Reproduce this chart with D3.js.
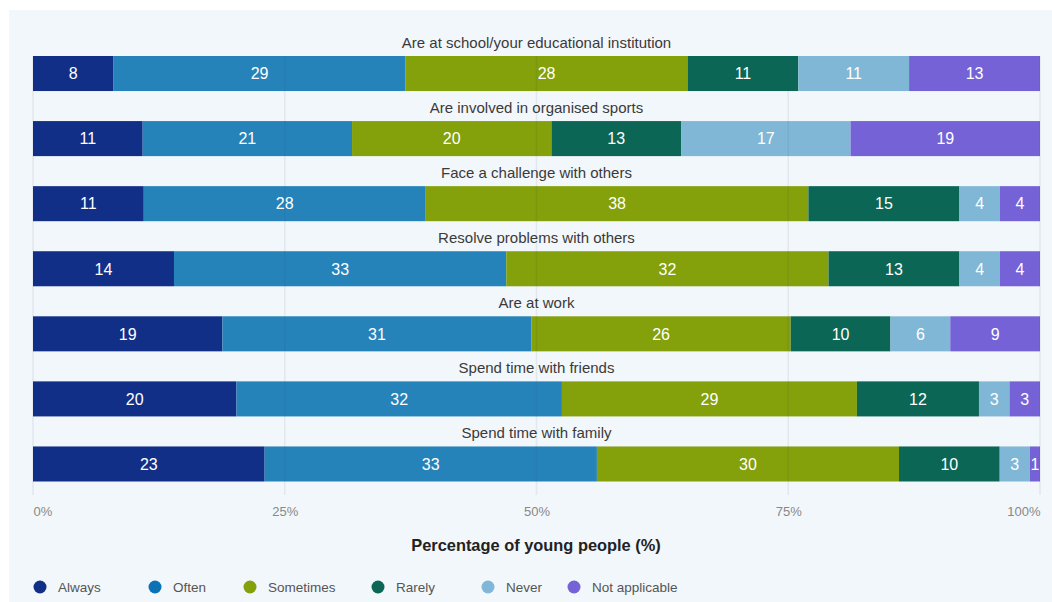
<!DOCTYPE html>
<html><head><meta charset="utf-8">
<script src="https://cdn.jsdelivr.net/npm/d3@7"></script>
<style>
html,body{margin:0;padding:0;background:#fff;}
svg{display:block;font-family:"Liberation Sans",Arial,Helvetica,sans-serif;}
</style></head>
<body><svg id="chart" width="1052" height="602"></svg>
<script>
const categories = [
  "Are at school/your educational institution",
  "Are involved in organised sports",
  "Face a challenge with others",
  "Resolve problems with others",
  "Are at work",
  "Spend time with friends",
  "Spend time with family"
];
const seriesNames = ["Always","Often","Sometimes","Rarely","Never","Not applicable"];
const always        = [8, 11, 11, 14, 19, 20, 23];
const often         = [29, 21, 28, 33, 31, 32, 33];
const sometimes     = [28, 20, 38, 32, 26, 29, 30];
const rarely        = [11, 13, 15, 13, 10, 12, 10];
const never         = [11, 17, 4, 4, 6, 3, 3];
const notApplicable = [13, 19, 4, 4, 9, 3, 1];
const tickValues = [0, 0.25, 0.5, 0.75, 1];
const tickLabels = ["0%","25%","50%","75%","100%"];
const barColors    = ["#122f87","#2683b9","#84a00a","#0b6655","#80b7d6","#7462d6"];
const legendColors = ["#122f87","#0a72b5","#84a00a","#0b6655","#80b7d6","#7462d6"];

const seriesValues = [always, often, sometimes, rarely, never, notApplicable];
const rows = categories.map((c,i)=>{
  const o = {category:c};
  seriesNames.forEach((s,j)=>o[s]=seriesValues[j][i]);
  return o;
});

const svg = d3.select("#chart");
svg.append("rect").attr("x",9).attr("y",10).attr("width",1043).attr("height",592).attr("fill","#f2f7fb");

const x = d3.scaleLinear().domain([0,1]).range([33,1040]);
const y = d3.scaleBand().domain(categories).range([56,481.5]).paddingInner(30/65).paddingOuter(0);

const stack = d3.stack().keys(seriesNames).offset(d3.stackOffsetExpand);
const stacked = stack(rows);

const g = svg.append("g");
stacked.forEach((layer,j)=>{
  const lg = g.append("g");
  lg.selectAll("rect").data(layer).join("rect")
    .attr("x",d=>x(d[0])).attr("width",d=>x(d[1])-x(d[0]))
    .attr("y",d=>y(d.data.category)).attr("height",y.bandwidth())
    .attr("fill",barColors[j]);
  lg.selectAll("text").data(layer).join("text")
    .attr("x",d=>(x(d[0])+x(d[1]))/2)
    .attr("y",d=>y(d.data.category)+y.bandwidth()/2)
    .attr("dy","0.36em").attr("text-anchor","middle")
    .attr("fill","#fff").attr("font-size",16)
    .text(d=>d.data[seriesNames[j]]);
});

// category labels
svg.append("g").selectAll("text").data(categories).join("text")
  .attr("x",536.5).attr("y",d=>y(d)-8)
  .attr("text-anchor","middle").attr("font-size",15).attr("fill","#3a3a3a")
  .text(d=>d);

// gridlines on top
svg.append("g").selectAll("line").data(tickValues).join("line")
  .attr("x1",d=>x(d)).attr("x2",d=>x(d))
  .attr("y1",56).attr("y2",495)
  .attr("stroke","rgba(40,60,90,0.08)").attr("stroke-width",1.5);

// axis tick labels
const axisG = svg.append("g").attr("transform","translate(0,516)");
const axis = d3.axisBottom(x).tickValues(tickValues).tickFormat((d,i)=>tickLabels[i]).tickSize(0);
axisG.call(axis);
axisG.select(".domain").remove();
axisG.selectAll("text").attr("y",0).attr("dy","0")
  .attr("font-size",13).attr("fill","#888")
  .attr("font-family","'Liberation Sans',Arial,sans-serif")
  .attr("text-anchor",(d,i)=> i===0?"start":(i===tickValues.length-1?"end":"middle"));

svg.append("text").attr("x",536).attr("y",551).attr("text-anchor","middle")
  .attr("font-size",16.4).attr("font-weight","bold").attr("fill","#222")
  .text("Percentage of young people (%)");

// legend
const legendX = [40,155,250,378,488,574];
const lg = svg.append("g");
seriesNames.forEach((s,i)=>{
  lg.append("circle").attr("cx",legendX[i]).attr("cy",587).attr("r",6.5).attr("fill",legendColors[i]);
  lg.append("text").attr("x",legendX[i]+18).attr("y",592).attr("font-size",13.5).attr("fill","#555").text(s);
});
</script></body></html>
